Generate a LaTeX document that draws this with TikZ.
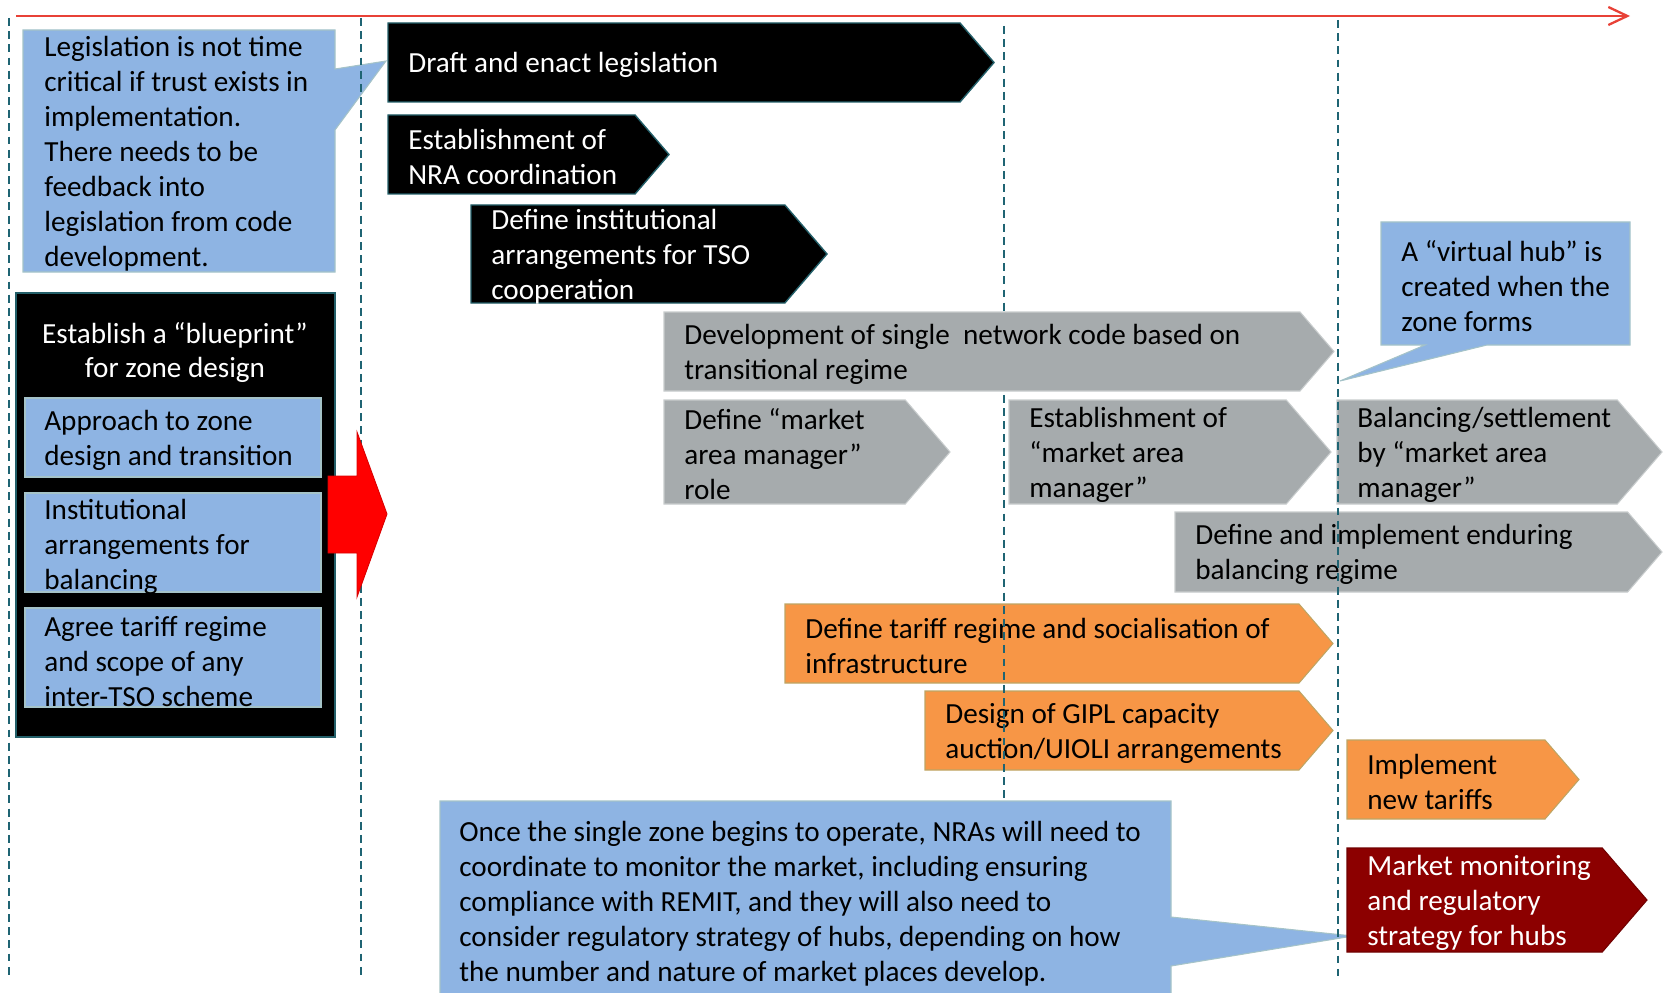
\documentclass[tikz,border=0pt]{standalone}
\usepackage{fontspec}
\setmainfont{Carlito}
\usetikzlibrary{arrows.meta}

\definecolor{timered}{RGB}{232,65,55}
\definecolor{guideteal}{RGB}{31,100,115}
\definecolor{notefill}{RGB}{142,180,227}
\definecolor{noteedge}{RGB}{165,195,200}
\definecolor{greyfill}{RGB}{166,171,173}
\definecolor{greyedge}{RGB}{200,204,205}
\definecolor{orangefill}{RGB}{247,150,70}
\definecolor{orangeedge}{RGB}{190,165,100}
\definecolor{hubred}{RGB}{140,0,0}
\definecolor{blackedge}{RGB}{35,95,105}

\tikzset{
  blackstage/.style={fill=black, draw=blackedge, line width=0.8pt},
  greystage/.style={fill=greyfill, draw=greyedge, line width=0.6pt},
  orangestage/.style={fill=orangefill, draw=orangeedge, line width=0.6pt},
  redstage/.style={fill=hubred, draw=hubred!80!black, line width=0.6pt},
  note/.style={fill=notefill, draw=noteedge, line width=0.6pt},
  lbl/.style={font=\fontsize{16.6}{19.9}\selectfont, align=left, inner sep=0pt, anchor=west, yshift=-0.05cm},
  guide/.style={draw=guideteal, line width=0.9pt, dash pattern=on 4.5pt off 3pt}
}

% chevron: style, name, left, tip, top, bottom, text colour, text
\newcommand{\stage}[8]{%
  \pgfmathsetmacro{\ymid}{(#5+#6)/2}%
  \pgfmathsetmacro{\xbody}{#4-0.43*(#6-#5)}%
  \path[#1] (#3,#5) -- (\xbody,#5) -- (#4,\ymid) -- (\xbody,#6) -- (#3,#6) -- cycle;
  \node[lbl, text=#7] (#2) at (#3+20,\ymid) {#8};
}

\begin{document}
\begin{tikzpicture}[x=0.02cm, y=-0.02cm]
  \useasboundingbox (0,0) rectangle (1673,993);

  % time axis
  \coordinate (t0) at (16,16);
  \coordinate (t1) at (1630,16);
  \draw[timered, line width=1.3pt, -{Straight Barb[length=0.38cm,width=0.36cm]}] (t0) -- (t1);

  % notes
  \path[note] (23,30) -- (335,30) -- (335,69) -- (386,61) -- (335,130) -- (335,272) -- (23,272) -- cycle;
  \node[lbl] (legnote) at (44,151) {Legislation is not time\\critical if trust exists in\\implementation.\\There needs to be\\feedback into\\legislation from code\\development.};

  \path[note] (1381,222) -- (1630,222) -- (1630,345) -- (1487,345) -- (1340,381) -- (1425,345) -- (1381,345) -- cycle;
  \node[lbl] (hubnote) at (1401,284) {A “virtual hub” is\\created when the\\zone forms};

  \path[note] (440,801) -- (1171,801) -- (1171,917) -- (1353,936) -- (1171,966) -- (1171,1000) -- (440,1000) -- cycle;
  \node[lbl] (remitnote) at (459,901) {Once the single zone begins to operate, NRAs will need to\\coordinate to monitor the market, including ensuring\\compliance with REMIT, and they will also need to\\consider regulatory strategy of hubs, depending on how\\the number and nature of market places develop.};

  % blueprint
  \path[blackstage] (16,293) rectangle (335,737);
  \node[lbl, align=center, anchor=center, text=white] (blueprint) at (175,350) {Establish a “blueprint”\\for zone design};
  \path[note] (25,398) rectangle (321,477);
  \node[lbl] (approach) at (44,438) {Approach to zone\\design and transition};
  \path[note] (25,493) rectangle (321,592);
  \node[lbl] (balinst) at (44,544) {Institutional\\arrangements for\\balancing};
  \path[note] (25,608) rectangle (321,707);
  \node[lbl] (tariffagree) at (44,659) {Agree tariff regime\\and scope of any\\inter-TSO scheme};

  % stages
  \stage{blackstage}{draft}{388}{994}{23}{102}{white}{Draft and enact legislation}
  \stage{blackstage}{nracoord}{388}{669}{115}{194}{white}{Establishment of\\NRA coordination}
  \stage{blackstage}{tsocoop}{471}{827}{205}{303}{white}{Define institutional\\arrangements for TSO\\cooperation}

  \stage{greystage}{mamdefine}{664}{950}{400}{504}{black}{Define “market\\area manager”\\role}
  \stage{greystage}{mamestab}{1009}{1331}{400}{504}{black}{Establishment of\\“market area\\manager”}
  \stage{greystage}{settle}{1337}{1662}{400}{504}{black}{Balancing/settlement\\by “market area\\manager”}
  \stage{greystage}{enduring}{1175}{1662}{512}{592}{black}{Define and implement enduring\\balancing regime}

  \stage{orangestage}{tariffdef}{785}{1333}{604}{683}{black}{Define tariff regime and socialisation of\\infrastructure}
  \stage{orangestage}{gipl}{925}{1333}{691}{770}{black}{Design of GIPL capacity\\auction/UIOLI arrangements}
  \stage{orangestage}{newtariffs}{1347}{1579}{740}{819}{black}{Implement\\new tariffs}

  \stage{redstage}{monitor}{1347}{1647}{848}{952}{white}{Market monitoring\\and regulatory\\strategy for hubs}

  % milestones
  \draw[guide] (9,18) -- (9,976);
  \draw[guide] (361,18) -- (361,976);
  \draw[guide] (1004,26) -- (1004,801);
  \draw[guide] (1338,20) -- (1338,976);

  \stage{greystage}{netcode}{664}{1334}{312}{391}{black}{Development of single \ network code based on\\transitional regime}

  % blueprint feeds the plan
  \path[fill=red, draw=red!85!black, line width=0.5pt] (328,476) -- (357,476) -- (357,432) -- (387,514) -- (357,597) -- (357,553) -- (328,553) -- cycle;
\end{tikzpicture}
\end{document}
